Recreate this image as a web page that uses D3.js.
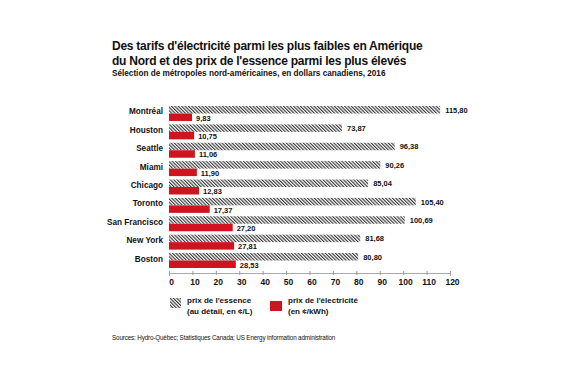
<!DOCTYPE html>
<html><head><meta charset="utf-8">
<script src="https://cdn.jsdelivr.net/npm/d3@7"></script>
<style>
body{margin:0;background:#fff;}
svg{display:block;}
text{font-family:"Liberation Sans", Arial, sans-serif;}
</style></head>
<body>
<script>
const cities = ["Montréal","Houston","Seattle","Miami","Chicago","Toronto","San Francisco","New York","Boston"];
const gasoline = [115.80,73.87,96.38,90.26,85.04,105.40,100.69,81.68,80.80];
const electricity = [9.83,10.75,11.06,11.90,12.83,17.37,27.20,27.81,28.53];
const ticks = [0,10,20,30,40,50,60,70,80,90,100,110,120];
const legendLabels = [["prix de l'essence","(au détail, en ¢/L)"],["prix de l'électricité","(en ¢/kWh)"]];
const titleLines = ["Des tarifs d'électricité parmi les plus faibles en Amérique","du Nord et des prix de l'essence parmi les plus élevés"];
const subtitle = "Sélection de métropoles nord-américaines, en dollars canadiens, 2016";
const source = "Sources: Hydro-Québec; Statistiques Canada; US Energy information administration";

const fmt = v => v.toFixed(2).replace(".", ",");
const RED = "#cf1420";

const svg = d3.select("body").append("svg").attr("width",570).attr("height",380);
const defs = svg.append("defs");
const pat = defs.append("pattern").attr("id","hatch").attr("patternUnits","userSpaceOnUse")
  .attr("width",2.4).attr("height",2.4).attr("patternTransform","rotate(-45)");
pat.append("rect").attr("width",2.4).attr("height",2.4).attr("fill","#fff");
pat.append("rect").attr("width",1.15).attr("height",2.4).attr("fill","#3a3a3a");

const x = d3.scaleLinear().domain([0,120]).range([169,450]);
const y = d3.scaleBand().domain(cities).range([104.3,269.7]).paddingInner(0.185).paddingOuter(0.0925);
const bh = y.bandwidth()/2;

// title
const t = svg.append("g");
titleLines.forEach((l,i)=>{
  t.append("text").attr("x",112).attr("y",50+i*14.5).attr("font-size",12).attr("font-weight","bold")
   .attr("fill","#111").attr("letter-spacing",-0.25).text(l);
});
t.append("text").attr("x",112).attr("y",75.5).attr("font-size",8.2).attr("font-weight","bold")
  .attr("fill","#111").text(subtitle);

// axis
const axis = svg.append("g").attr("transform","translate(0,273)")
  .call(d3.axisBottom(x).tickValues(ticks).tickSize(3).tickFormat(d=>d));
axis.select(".domain").attr("stroke","#aaa");
axis.selectAll(".tick line").attr("stroke","#999").attr("y1",-2).attr("y2",2);
axis.selectAll(".tick text").attr("font-size",8.5).attr("font-weight","bold").attr("fill","#111")
  .attr("y",6).attr("dx",2);

const rows = svg.append("g");
cities.forEach((c,i)=>{
  const y0 = y(c);
  rows.append("rect").attr("x",x(0)).attr("y",y0).attr("width",x(gasoline[i])-x(0)).attr("height",bh)
    .attr("fill","url(#hatch)");
  rows.append("rect").attr("x",x(0)).attr("y",y0+bh).attr("width",x(electricity[i])-x(0)).attr("height",bh)
    .attr("fill",RED);
  rows.append("text").attr("x",163).attr("y",y0+bh+1).attr("text-anchor","end")
    .attr("font-size",8.2).attr("font-weight","bold").attr("fill","#111").text(c);
  rows.append("text").attr("x",x(gasoline[i])+5).attr("y",y0+bh/2+3)
    .attr("font-family","'Liberation Sans Narrow','DejaVu Sans Condensed',sans-serif")
    .attr("font-size",7.5).attr("font-weight","bold").attr("fill","#111").text(fmt(gasoline[i]));
  rows.append("text").attr("x",x(electricity[i])+4).attr("y",y0+bh*1.5+3.5)
    .attr("font-family","'Liberation Sans Narrow','DejaVu Sans Condensed',sans-serif")
    .attr("font-size",7.5).attr("font-weight","bold").attr("fill","#111").text(fmt(electricity[i]));
});

// legend
const lg = svg.append("g");
lg.append("rect").attr("x",170).attr("y",298).attr("width",11).attr("height",10).attr("fill","url(#hatch)");
lg.append("rect").attr("x",270).attr("y",301).attr("width",12).attr("height",10).attr("fill",RED);
legendLabels.forEach((ls,i)=>{
  ls.forEach((l,j)=>{
    lg.append("text").attr("x",i===0?187:288).attr("y",303+j*11).attr("font-size",8)
      .attr("font-weight","600").attr("fill","#111").text(l);
  });
});

svg.append("text").attr("x",112).attr("y",340).attr("font-size",6.3).attr("fill","#111")
  .attr("letter-spacing",-0.15).text(source);
</script>
</body></html>
